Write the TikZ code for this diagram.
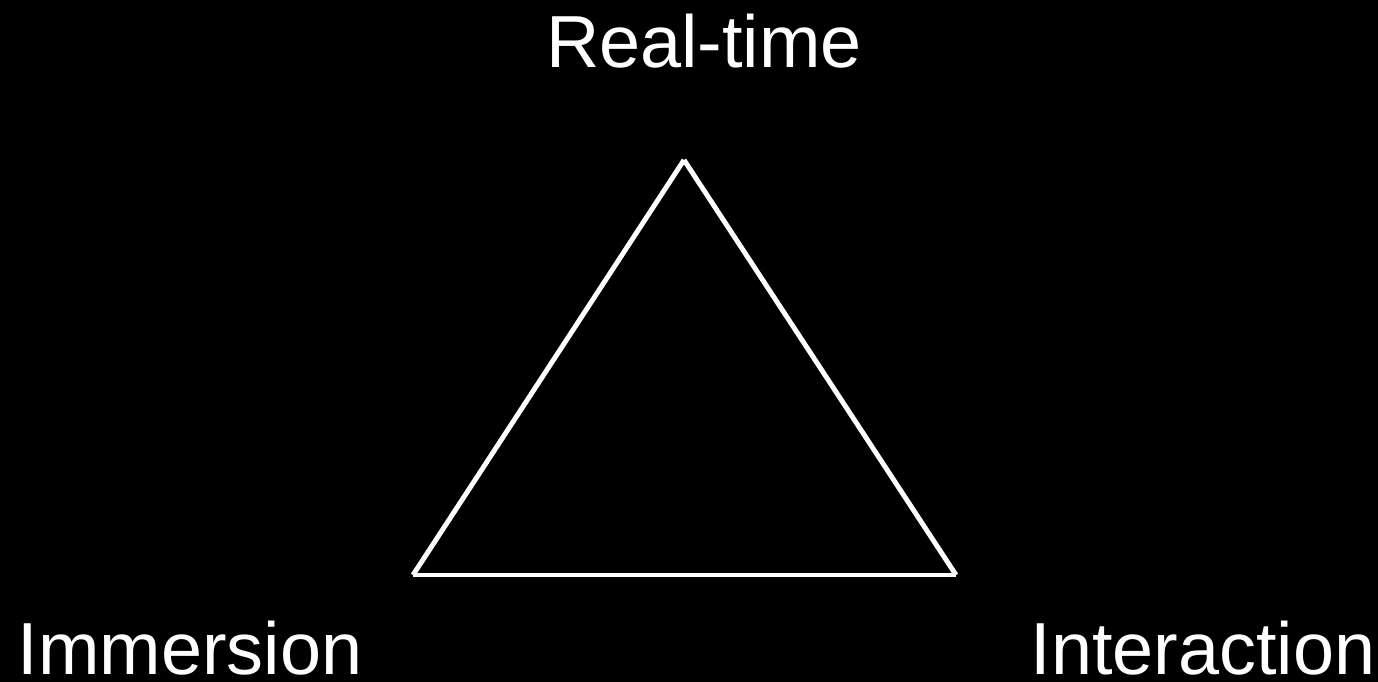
\documentclass[tikz,border=0pt]{standalone}
\usepackage{fontspec}
\setmainfont{Liberation Sans}
\usepackage{tikz}
\usetikzlibrary{positioning}

\tikzset{
	corner/.style={white, font=\fontsize{21}{25}\selectfont, inner sep=0pt, anchor=base},
	side/.style={white, line width=1.4pt}
}

\begin{document}
\begin{tikzpicture}
	\fill[black] (0,0) rectangle (13.78,6.82);
	\useasboundingbox (0,0) rectangle (13.78,6.82);
	% vertices of the triangle
	\coordinate (top) at (6.84,5.22);
	\coordinate (left) at (4.13,1.07);
	\coordinate (right) at (9.56,1.07);
	% labels
	\node[corner] (realtime) at (7.04,6.14) {Real-time};
	\node[corner] (immersion) at (1.90,0.07) {Immersion};
	\node[corner] (interaction) at (12.03,0.07) {Interaction};
	% sides
	\draw[side] (left) -- (top);
	\draw[side] (top) -- (right);
	\draw[side] (left) -- (right);
\end{tikzpicture}
\end{document}
